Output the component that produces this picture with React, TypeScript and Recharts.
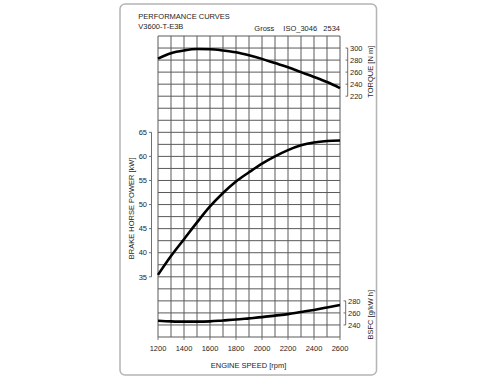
import React from 'react'
import { ComposedChart, Line, XAxis, YAxis, CartesianGrid } from 'recharts'

// engine speed [rpm]
const rpm = [1200, 1300, 1400, 1500, 1600, 1700, 1800, 1900, 2000, 2100, 2200, 2300, 2400, 2500, 2600]
// torque [N m]
const torque = [282.5, 291.5, 296, 298.3, 298, 296, 293, 288, 282, 275, 268, 260, 252, 243.5, 233.5]
// brake horse power [kW]
const power = [35.4, 39.3, 42.8, 46.3, 49.6, 52.4, 54.8, 56.7, 58.5, 60.0, 61.3, 62.3, 62.9, 63.2, 63.3]
// bsfc [g/kW h]
const bsfc = [247, 246, 245.5, 245.5, 246, 247.5, 249, 251, 253, 255.5, 258, 261.5, 265, 269, 273]

const xTicks = [1200, 1400, 1600, 1800, 2000, 2200, 2400, 2600]
const gridX = [1200, 1300, 1400, 1500, 1600, 1700, 1800, 1900, 2000, 2100, 2200, 2300, 2400, 2500, 2600]
const GRID_ROWS = 25
const powerTicks = [35, 40, 45, 50, 55, 60, 65]
const torqueTicks = [220, 240, 260, 280, 300]
const bsfcTicks = [240, 260, 280]

const data = rpm.map((r, i) => ({ rpm: r, torque: torque[i], power: power[i], bsfc: bsfc[i] }))

const FONT = '"Liberation Sans", Arial, Helvetica, sans-serif'
const INK = '#1e1e1e'
const GRID = '#5a5a5a'
const SPINE = '#4a4a4a'
const FS = 7.5
const ROW = 301 / GRID_ROWS

// left scale with a short spine from first to last tick
const PowerTick = ({ x, y, payload }: any) => {
  const last = payload.value === powerTicks[0]
  return (
    <g>
      <text x={x - 11} y={y + 2.7} textAnchor="end" fontSize={FS} fill={INK} fontFamily={FONT}>
        {payload.value}
      </text>
      <line x1={x - 9} x2={x - 6.5} y1={y} y2={y} stroke={SPINE} strokeWidth={0.8} />
      {!last && <line x1={x - 6.5} x2={x - 6.5} y1={y} y2={y + ROW * 2} stroke={SPINE} strokeWidth={0.8} />}
    </g>
  )
}

const makeRightTick = (ticks: number[], shift: number) => ({ x, y, payload }: any) => {
  const last = payload.value === ticks[0]
  const bx = x - shift
  return (
    <g>
      <text x={bx + 9} y={y + 2.7} textAnchor="start" fontSize={FS} fill={INK} fontFamily={FONT}>
        {payload.value}
      </text>
      <line x1={bx + 4.5} x2={bx + 6.7} y1={y} y2={y} stroke={SPINE} strokeWidth={0.8} />
      {!last && <line x1={bx + 6.7} x2={bx + 6.7} y1={y} y2={y + ROW} stroke={SPINE} strokeWidth={0.8} />}
    </g>
  )
}
const TorqueTick = makeRightTick(torqueTicks, 0)
const BsfcTick = makeRightTick(bsfcTicks, 1)

const SpeedTick = ({ x, y, payload }: any) => (
  <text x={x} y={y + 11} textAnchor="middle" fontSize={FS} fill={INK} fontFamily={FONT}>
    {payload.value}
  </text>
)

export default function App() {
  return (
    <div style={{ position: 'absolute', left: 0, top: 0, width: 500, height: 384, background: '#fff' }}>
      <svg width={500} height={384} style={{ position: 'absolute', left: 0, top: 0 }}>
        <rect x={120} y={4} width={256.5} height={371} rx={5} fill="#fff" stroke="#b4b4b4" strokeWidth={1.5} />
      </svg>
      <div style={{ position: 'absolute', left: 0, top: 0 }}>
        <ComposedChart
          width={500}
          height={384}
          data={data}
          margin={{ top: 36, right: 158, bottom: 46, left: 157 }}
          style={{ fontFamily: FONT }}
        >
          <CartesianGrid
            stroke={GRID}
            strokeWidth={1}
            verticalCoordinatesGenerator={({ offset }: any) =>
              gridX.map((v) => offset.left + ((v - gridX[0]) / (gridX[gridX.length - 1] - gridX[0])) * offset.width)
            }
            horizontalCoordinatesGenerator={({ offset }: any) =>
              Array.from({ length: GRID_ROWS + 1 }, (_, i) => offset.top + (i * offset.height) / GRID_ROWS)
            }
          />
          <XAxis
            dataKey="rpm"
            type="number"
            domain={[1200, 2600]}
            ticks={xTicks}
            interval={0}
            height={1}
            axisLine={false}
            tickSize={3}
            tickMargin={0}
            tickLine={{ stroke: '#777' }}
            tick={<SpeedTick />}
          />
          <YAxis
            yAxisId="power"
            orientation="left"
            type="number"
            domain={[22.5, 85]}
            ticks={powerTicks}
            interval={0}
            width={1}
            axisLine={false}
            tickLine={false}
            tickSize={0}
            tickMargin={0}
            tick={<PowerTick />}
          />
          <YAxis
            yAxisId="torque"
            orientation="right"
            type="number"
            domain={[-180, 320]}
            ticks={torqueTicks}
            interval={0}
            width={1}
            axisLine={false}
            tickLine={false}
            tickSize={0}
            tickMargin={0}
            tick={<TorqueTick />}
          />
          <YAxis
            yAxisId="bsfc"
            orientation="right"
            type="number"
            domain={[220, 720]}
            ticks={bsfcTicks}
            interval={0}
            width={1}
            axisLine={false}
            tickLine={false}
            tickSize={0}
            tickMargin={0}
            tick={<BsfcTick />}
          />
          <Line yAxisId="torque" type="monotone" dataKey="torque" stroke="#000" strokeWidth={2.6} dot={false} isAnimationActive={false} />
          <Line yAxisId="power" type="monotone" dataKey="power" stroke="#000" strokeWidth={2.6} dot={false} isAnimationActive={false} />
          <Line yAxisId="bsfc" type="monotone" dataKey="bsfc" stroke="#000" strokeWidth={2.6} dot={false} isAnimationActive={false} />
        </ComposedChart>
      </div>
      <svg width={500} height={384} style={{ position: 'absolute', left: 0, top: 0, pointerEvents: 'none' }} fontFamily={FONT} fill={INK} fontSize={FS}>
        <text x={138.3} y={19.3}>PERFORMANCE CURVES</text>
        <text x={138.3} y={28.7}>V3600-T-E3B</text>
        <text x={254.3} y={30.7}>Gross</text>
        <text x={283.3} y={30.7}>ISO_3046</text>
        <text x={340} y={30.7} textAnchor="end">2534</text>
        <text x={248.5} y={367.7} textAnchor="middle">ENGINE SPEED [rpm]</text>
        <text transform="translate(134.3 208.3) rotate(-90)" textAnchor="middle">BRAKE HORSE POWER [kW]</text>
        <text transform="translate(372.6 71.7) rotate(-90)" textAnchor="middle">TORQUE [N m]</text>
        <text transform="translate(372.6 314.7) rotate(-90)" textAnchor="middle">BSFC [g/kW h]</text>
      </svg>
    </div>
  )
}
